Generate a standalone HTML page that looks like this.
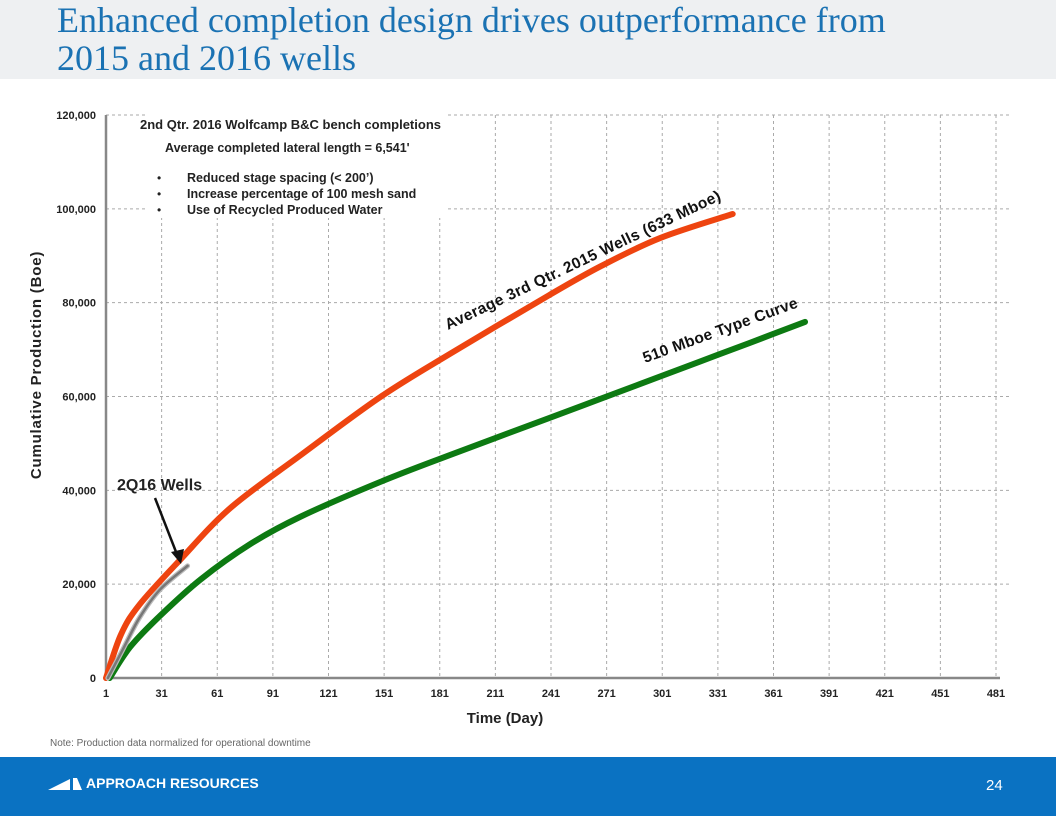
<!DOCTYPE html>
<html><head><meta charset="utf-8"><style>
body{margin:0;width:1056px;height:816px;overflow:hidden;background:#fff;font-family:"Liberation Sans",sans-serif;position:relative}
#hdr{position:absolute;left:0;top:0;width:1056px;height:79px;background:#eef0f2}
#title{position:absolute;left:57px;top:1px;font-family:"Liberation Serif",serif;font-size:36px;line-height:38px;color:#1a72b3}
#ftr{position:absolute;left:0;top:757px;width:1056px;height:59px;background:#0a72c2;color:#fff}
</style></head><body>
<div id="hdr"></div>
<div id="title">Enhanced completion design drives outperformance from<br>2015 and 2016 wells</div>
<svg width="1056" height="816" style="position:absolute;left:0;top:0" id="chart"></svg>
<div id="ftr">
<svg width="40" height="20" style="position:absolute;left:48px;top:19px"><polygon points="0,14 22,3 22,14" fill="#fff"/><polygon points="25,2 29,2 34,14 25,14" fill="#fff"/></svg>
<div style="position:absolute;left:86px;top:18px;font-size:14px;font-weight:bold">APPROACH RESOURCES</div>
<div style="position:absolute;left:986px;top:20px;font-size:15px">24</div>
</div>
<div style="position:absolute;left:50px;top:738px;font-size:10px;color:#666">Note: Production data normalized for operational downtime</div>
<script>
const xTicks=[1,31,61,91,121,151,181,211,241,271,301,331,361,391,421,451,481];
const yTicks=[0,20000,40000,60000,80000,100000,120000];
const orangeDays=[1,9,19,41,68,106,149,187,240,268,300,339];
const orangeVals=[0,9200,15600,25200,36200,47500,59900,69200,81600,87800,93800,98900];
const greenDays=[3,14,30,52,79,106,149,187,240,267,294,321,348,378];
const greenVals=[0,6600,13200,21000,28600,34400,41800,47600,55400,59400,63400,67400,71400,75900];
const grayDays=[2,10,19,30,45];
const grayVals=[0,6000,12800,18800,23900];
const NS='http://www.w3.org/2000/svg';
const svg=document.getElementById('chart');
const X=d=>106+(d-1)*890/480;
const Y=v=>678-v*563/120000;
function mk(t,a){const e=document.createElementNS(NS,t);for(const k in a)e.setAttribute(k,a[k]);svg.appendChild(e);return e;}
xTicks.forEach((d,i)=>{
 if(i>0){const l=mk('line',{x1:X(d),x2:X(d),y1:115,y2:678,stroke:'#aaa','stroke-dasharray':'3,3'});
 
 }
 const t=mk('text',{x:X(d),y:697,'font-size':11,'font-weight':'bold','text-anchor':'middle',fill:'#222'});t.textContent=d;
 
 
});
yTicks.forEach(v=>{
 if(v>0){const l=mk('line',{x1:106,x2:1010,y1:Y(v),y2:Y(v),stroke:'#aaa','stroke-dasharray':'3,3'});
 
 }
 const t=mk('text',{x:96,y:Y(v)+4,'font-size':11,'font-weight':'bold','text-anchor':'end',fill:'#222'});t.textContent=v.toLocaleString('en-US');
 
 
});
const bx=mk('rect',{x:145,y:110,width:300,height:108,fill:'#fff'});


const ax=mk('path',{d:'M106,115 V678 H1000',stroke:'#888','stroke-width':2.5,fill:'none'});


function smooth(pts){let d='M'+pts[0][0]+','+pts[0][1];
 for(let i=0;i<pts.length-1;i++){const p0=pts[i-1]||pts[i],p1=pts[i],p2=pts[i+1],p3=pts[i+2]||p2;
  d+=' C'+(p1[0]+(p2[0]-p0[0])/6)+','+(p1[1]+(p2[1]-p0[1])/6)+' '+(p2[0]-(p3[0]-p1[0])/6)+','+(p2[1]-(p3[1]-p1[1])/6)+' '+p2[0]+','+p2[1];}
 return d;}
function line(ds,vs,c,w,n){const p=mk('path',{d:smooth(ds.map((d,i)=>[X(d),Y(vs[i])])),stroke:c,'stroke-width':w,fill:'none','stroke-linecap':'round','stroke-linejoin':'round'});
 
 }
line(greenDays,greenVals,'#0d7a12',6,'type-curve-line');
line(orangeDays,orangeVals,'#ee4410',6,'q3-2015-wells-line');
line(grayDays,grayVals,'#bbb',5,'2q16-wells-band');
line(grayDays,grayVals,'#777',2.5,'2q16-wells-line');
function txt(s,a,n){const t=mk('text',a);t.textContent=s;
 
 return t;}
txt('2nd Qtr. 2016 Wolfcamp B&C bench completions',{x:140,y:129,'font-size':13,'font-weight':'bold',fill:'#222'},'annotation-title');
txt("Average completed lateral length = 6,541'",{x:165,y:152,'font-size':12.5,'font-weight':'bold',fill:'#222'},'annotation-lateral');
['Reduced stage spacing (< 200’)','Increase percentage of 100 mesh sand','Use of Recycled Produced Water'].forEach((s,i)=>{
 txt('•',{x:157,y:182+i*16,'font-size':12,fill:'#222'},'bullet');
 txt(s,{x:187,y:182+i*16,'font-size':12.5,'font-weight':'bold',fill:'#222'},'annotation-bullet');
});
txt('Average 3rd Qtr. 2015 Wells (633 Mboe)',{x:0,y:0,'font-size':15.5,'font-weight':'bold',fill:'#111','letter-spacing':'0.4',transform:'translate(448,330) rotate(-25.5)'},'q3-2015-label');
txt('510 Mboe Type Curve',{x:0,y:0,'font-size':15.5,'font-weight':'bold',fill:'#111','letter-spacing':'0.3',transform:'translate(645,363) rotate(-20)'},'type-curve-label');
txt('2Q16 Wells',{x:117,y:490,'font-size':16,'font-weight':'bold',fill:'#222'},'2q16-label');
const ar=mk('line',{x1:155,y1:498,x2:178,y2:557,stroke:'#111','stroke-width':2.5});


const ah=mk('polygon',{points:'181,564 171,552 184,549',fill:'#111'});


txt('Time (Day)',{x:505,y:723,'font-size':15,'font-weight':'bold','text-anchor':'middle',fill:'#222'},'x-axis-title');
txt('Cumulative Production (Boe)',{x:0,y:0,'font-size':15,'font-weight':'bold','text-anchor':'middle',fill:'#222','letter-spacing':'0.8',transform:'translate(41,365) rotate(-90)'},'y-axis-title');
</script>
</body></html>
